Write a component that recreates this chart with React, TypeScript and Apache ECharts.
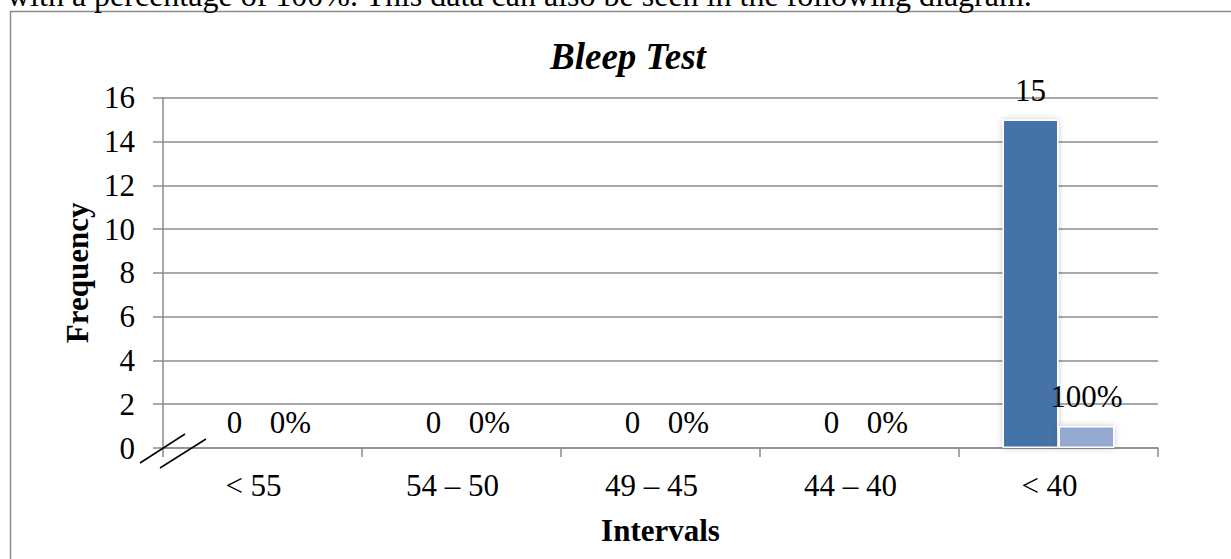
import React, { useEffect, useRef } from 'react';
import * as echarts from 'echarts';

const categories = ['< 55', '54 – 50', '49 – 45', '44 – 40', '< 40'];
const frequencies = [0, 0, 0, 0, 15];
const percentages = [0, 0, 0, 0, 100];
const chartTitle = 'Bleep Test';
const xName = 'Intervals';
const yName = 'Frequency';
const bodyText = 'with a percentage of 100%. This data can also be seen in the following diagram.';

const FONT = '"Liberation Serif", "Times New Roman", serif';

export default function App() {
  const ref = useRef<HTMLDivElement>(null);
  useEffect(() => {
    document.body.style.margin = '0';
    if (!ref.current) return;
    const chart = echarts.init(ref.current, null, { renderer: 'svg' });
    const labelStyle = { fontFamily: FONT, fontSize: 31, color: '#000' };
    const barItem = (v: number, shown: number) => ({
      value: v,
      itemStyle: shown > 0 ? {} : { shadowBlur: 0, borderWidth: 0 },
      label: { distance: shown > 0 ? 14 : 10 },
    });
    chart.setOption({
      animation: false,
      backgroundColor: '#fff',
      title: {
        text: chartTitle,
        left: 545,
        top: 33,
        textStyle: { fontFamily: FONT, fontSize: 37, fontWeight: 'bold', fontStyle: 'italic', color: '#000' },
      },
      grid: { left: 163, right: 73, top: 97.7, bottom: 111, containLabel: false },
      xAxis: {
        type: 'category',
        data: categories,
        boundaryGap: true,
        axisLine: { show: true, lineStyle: { color: '#8c8c8c', width: 1.5 } },
        axisTick: { show: true, length: 9, alignWithLabel: false, lineStyle: { color: '#8c8c8c', width: 1.5 } },
        axisLabel: { ...labelStyle, margin: 22, padding: [0, 18, 0, 0] },
        name: xName,
        nameLocation: 'middle',
        nameGap: 67,
        nameTextStyle: { fontFamily: FONT, fontSize: 31, fontWeight: 'bold', color: '#000' },
      },
      yAxis: {
        type: 'value',
        min: 0,
        max: 16,
        interval: 2,
        axisLine: { show: true, lineStyle: { color: '#8c8c8c', width: 1.5 } },
        axisTick: { show: true, length: 10, inside: false, lineStyle: { color: '#8c8c8c', width: 1.5 } },
        axisLabel: { ...labelStyle, margin: 28 },
        splitLine: { show: true, lineStyle: { color: '#8c8c8c', width: 1.5 } },
        name: yName,
        nameLocation: 'middle',
        nameGap: 68,
        nameTextStyle: { fontFamily: FONT, fontSize: 31, fontWeight: 'bold', color: '#000' },
      },
      series: [
        {
          type: 'bar',
          barWidth: 56,
          barGap: '0%',
          data: frequencies.map((v) => barItem(v, v)),
          itemStyle: {
            color: '#4572A7',
            borderColor: '#ffffff',
            borderWidth: 1.5,
            shadowColor: 'rgba(0,0,0,0.22)',
            shadowBlur: 6,
          },
          label: { show: true, position: 'top', ...labelStyle, formatter: (p: any) => String(frequencies[p.dataIndex]) },
        },
        {
          type: 'bar',
          barWidth: 56,
          data: percentages.map((v) => barItem(v / 100, v)),
          itemStyle: {
            color: '#94A9D0',
            borderColor: '#ffffff',
            borderWidth: 1.5,
            shadowColor: 'rgba(0,0,0,0.22)',
            shadowBlur: 6,
          },
          label: { show: true, position: 'top', ...labelStyle, formatter: (p: any) => percentages[p.dataIndex] + '%' },
        },
      ],
      graphic: [
        {
          type: 'rect',
          shape: { x: 10.5, y: 11.5, width: 1300, height: 700 },
          style: { fill: 'none', stroke: '#8c8c8c', lineWidth: 1.5 },
          silent: true,
        },
        {
          type: 'text',
          x: 7,
          y: -5,
          style: { text: bodyText, fontFamily: FONT, fontSize: 32, fill: '#000', verticalAlign: 'middle', align: 'left' },
          silent: true,
        },
        {
          type: 'line',
          shape: { x1: 140, y1: 463, x2: 185, y2: 434 },
          style: { stroke: '#000', lineWidth: 1.5 },
          z: 10,
          silent: true,
        },
        {
          type: 'line',
          shape: { x1: 160, y1: 468, x2: 206, y2: 439 },
          style: { stroke: '#000', lineWidth: 1.5 },
          z: 10,
          silent: true,
        },
      ],
    });
    return () => chart.dispose();
  }, []);
  return <div ref={ref} style={{ position: 'absolute', left: 0, top: 0, width: 1231, height: 559 }} />;
}
